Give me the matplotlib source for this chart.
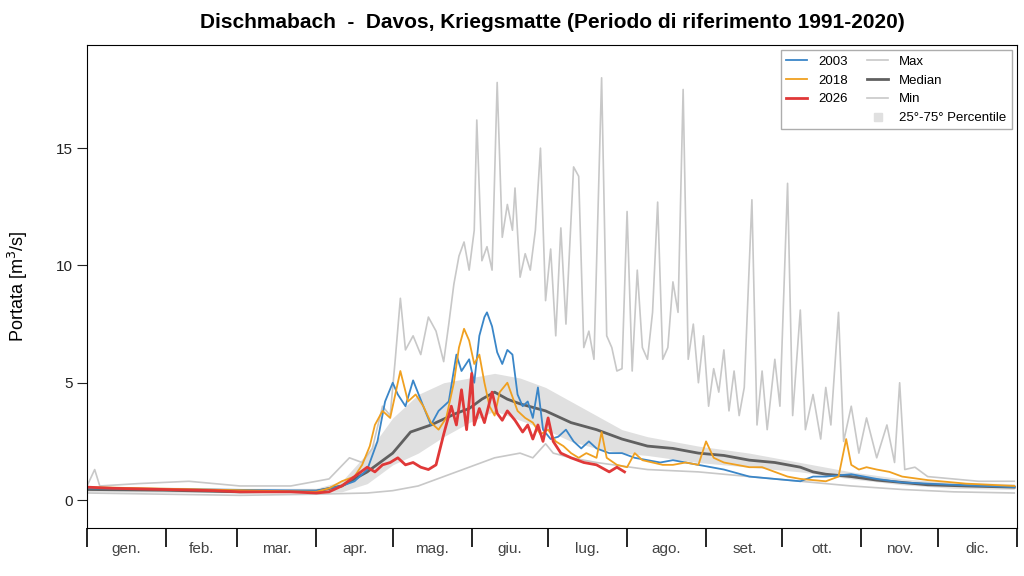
import matplotlib
matplotlib.use("Agg")
import matplotlib.pyplot as plt
from matplotlib.lines import Line2D

plt.rcParams['font.family'] = ['Liberation Sans', 'DejaVu Sans']

# day-of-year knots and values
max_days = [0, 3, 5, 20, 40, 60, 80, 95, 103, 108, 112, 116, 119, 121, 123, 125, 128, 131, 134, 137, 140, 142, 144, 146, 148, 150,
            152, 153, 155, 157, 159, 161, 163, 165, 167, 168, 170, 172, 174, 176, 178, 180, 182, 184, 186, 188, 191, 193, 195, 197,
            199, 202, 204, 206, 208, 210, 212, 214, 216, 218, 220, 222, 224, 226, 228, 230, 232, 234, 236, 238, 240, 242, 244, 246,
            248, 250, 252, 254, 256, 258, 261, 263, 265, 267, 270, 272, 275, 277, 280, 282, 285, 288, 290, 292, 295, 297, 300, 303,
            306, 310, 314, 317, 319, 321, 325, 330, 340, 350, 364]
max_vals = [0.6, 1.3, 0.6, 0.7, 0.8, 0.6, 0.6, 0.9, 1.8, 1.6, 2.2, 4.0, 3.6, 6.0, 8.6, 6.4, 7.0, 6.2, 7.8, 7.2, 5.9, 7.5, 9.2, 10.4, 11.0, 9.8,
            11.5, 16.2, 10.2, 10.8, 9.8, 17.8, 11.2, 12.6, 11.5, 13.3, 9.5, 10.5, 9.8, 11.5, 15.0, 8.5, 10.7, 7.0, 11.6, 7.5, 14.2, 13.8, 6.5, 7.2,
            6.0, 18.0, 7.0, 6.5, 5.5, 5.6, 12.3, 5.5, 9.8, 6.5, 6.0, 8.0, 12.7, 6.0, 6.5, 9.3, 8.0, 17.5, 6.0, 7.5, 5.0, 7.0, 4.0, 5.6,
            4.6, 6.4, 3.8, 5.5, 3.6, 4.8, 12.8, 3.2, 5.5, 3.0, 6.0, 4.0, 13.5, 3.6, 8.1, 3.0, 4.5, 2.6, 4.8, 3.2, 8.0, 2.5, 4.0, 2.0,
            3.5, 1.8, 3.2, 1.6, 5.0, 1.3, 1.4, 1.0, 0.9, 0.8, 0.8]

min_days = [0, 30, 60, 90, 110, 120, 130, 140, 150, 160, 170, 175, 180, 183, 190, 200, 220, 240, 260, 280, 300, 320, 340, 364]
min_vals = [0.3, 0.25, 0.2, 0.25, 0.3, 0.4, 0.6, 1.0, 1.4, 1.8, 2.0, 1.8, 2.4, 2.0, 1.8, 1.6, 1.3, 1.2, 1.0, 0.8, 0.6, 0.45, 0.35, 0.3]

pct_days = [0, 30, 60, 90, 100, 110, 120, 130, 140, 150, 160, 170, 180, 190, 200, 210, 220, 240, 260, 280, 300, 320, 340, 364]
p25_vals = [0.35, 0.33, 0.3, 0.3, 0.35, 0.7, 1.5, 2.0, 2.7, 3.3, 3.8, 3.4, 3.0, 2.5, 2.2, 2.0, 1.9, 1.6, 1.4, 1.2, 0.9, 0.65, 0.5, 0.45]
p75_vals = [0.6, 0.55, 0.5, 0.5, 0.8, 2.0, 3.5, 4.5, 5.0, 5.2, 5.4, 5.2, 4.8, 4.2, 3.6, 3.0, 2.7, 2.3, 2.0, 1.6, 1.2, 0.9, 0.75, 0.7]

med_days = [0, 30, 60, 90, 100, 110, 115, 120, 127, 135, 145, 150, 155, 160, 165, 170, 180, 190, 200, 210, 220, 230, 240, 250,
            260, 270, 280, 285, 290, 300, 310, 320, 330, 345, 364]
med_vals = [0.45, 0.42, 0.35, 0.38, 0.6, 1.2, 1.6, 2.0, 2.9, 3.2, 3.7, 3.9, 4.3, 4.6, 4.3, 4.1, 3.8, 3.3, 3.0, 2.6, 2.3, 2.2, 2.0, 1.9,
            1.7, 1.6, 1.4, 1.2, 1.1, 1.0, 0.85, 0.75, 0.65, 0.6, 0.55]

y2003_days = [0, 90, 95, 100, 105, 110, 114, 117, 120, 122, 125, 128, 132, 135, 138, 142, 145, 147, 150, 152, 154, 156, 157, 159,
              161, 163, 165, 167, 169, 171, 173, 175, 177, 179, 182, 185, 188, 191, 194, 197, 200, 205, 210, 215, 220, 225, 230, 235,
              240, 250, 260, 270, 280, 285, 290, 300, 310, 320, 340, 364]
y2003_vals = [0.5, 0.4, 0.5, 0.6, 0.8, 1.3, 2.5, 4.2, 5.0, 4.5, 4.0, 5.1, 4.0, 3.2, 3.8, 4.2, 6.2, 5.5, 6.0, 5.0, 7.0, 7.8, 8.0, 7.4,
              6.3, 5.8, 6.4, 6.2, 4.5, 4.0, 4.2, 3.5, 4.8, 3.0, 2.6, 2.7, 3.0, 2.5, 2.2, 2.5, 2.2, 2.0, 2.0, 1.8, 1.7, 1.6, 1.7, 1.6,
              1.5, 1.3, 1.0, 0.9, 0.8, 1.0, 1.0, 1.1, 0.9, 0.75, 0.65, 0.55]

y2018_days = [0, 90, 95, 100, 105, 108, 111, 113, 116, 119, 121, 123, 126, 129, 132, 135, 138, 141, 144, 146, 148, 150, 152, 154,
              156, 158, 160, 162, 165, 167, 169, 172, 175, 178, 181, 184, 187, 190, 193, 196, 200, 202, 204, 208, 212, 215, 218, 222,
              226, 230, 235, 240, 243, 246, 250, 255, 260, 265, 270, 275, 280, 290, 295, 298, 300, 303, 306, 310, 315, 320, 330, 345, 364]
y2018_vals = [0.55, 0.35, 0.5, 0.8, 1.0, 1.5, 2.3, 3.2, 3.8, 3.5, 4.5, 5.5, 4.2, 4.5, 4.0, 3.3, 3.0, 3.5, 5.0, 6.5, 7.3, 6.8, 5.8, 6.2,
              5.0, 4.0, 3.6, 4.6, 5.0, 4.4, 3.8, 3.5, 3.3, 2.8, 3.0, 2.5, 2.3, 2.0, 1.8, 2.0, 1.8, 2.9, 1.8, 1.5, 1.4, 2.0, 1.7, 1.6,
              1.5, 1.5, 1.6, 1.5, 2.5, 1.8, 1.6, 1.5, 1.4, 1.4, 1.2, 1.0, 0.9, 0.8, 1.0, 2.6, 1.5, 1.3, 1.4, 1.3, 1.2, 1.0, 0.85, 0.7, 0.6]

y2026_days = [0, 10, 30, 50, 60, 80, 90, 95, 100, 105, 110, 113, 116, 119, 122, 125, 128, 131, 134, 137, 140, 143, 145, 147, 149,
              151, 152, 154, 156, 159, 161, 163, 165, 168, 171, 173, 175, 177, 179, 181, 183, 186, 190, 195, 200, 205, 208, 211]
y2026_vals = [0.55, 0.5, 0.45, 0.4, 0.35, 0.35, 0.3, 0.35, 0.6, 1.0, 1.4, 1.2, 1.5, 1.6, 1.8, 1.5, 1.6, 1.4, 1.3, 1.5, 2.8, 4.0, 3.2, 4.7, 3.0,
              5.4, 3.2, 3.9, 3.3, 4.6, 3.7, 3.4, 3.8, 3.4, 2.9, 3.2, 2.6, 3.2, 2.5, 3.5, 2.5, 2.0, 1.8, 1.6, 1.5, 1.2, 1.4, 1.2]

months = ['gen.', 'feb.', 'mar.', 'apr.', 'mag.', 'giu.', 'lug.', 'ago.', 'set.', 'ott.', 'nov.', 'dic.']
month_starts = [0, 31, 59, 90, 120, 151, 181, 212, 243, 273, 304, 334, 365]

fig = plt.figure(figsize=(10.24, 5.76), dpi=100)
ax = fig.add_axes([0.085, 0.083, 0.908, 0.839])

ax.fill_between(pct_days, p25_vals, p75_vals, color='#e0e0e0', lw=0)
l_max, = ax.plot(max_days, max_vals, color='#c8c8c8', lw=1.2)
l_min, = ax.plot(min_days, min_vals, color='#c8c8c8', lw=1.2)
l_med, = ax.plot(med_days, med_vals, color='#606060', lw=2)
l03, = ax.plot(y2003_days, y2003_vals, color='#3a86c8', lw=1.3)
l18, = ax.plot(y2018_days, y2018_vals, color='#f0a020', lw=1.3)
l26, = ax.plot(y2026_days, y2026_vals, color='#e03838', lw=2)

ax.set_xlim(0, 365)
ax.set_ylim(-1.2, 19.4)
ax.set_yticks([0, 5, 10, 15])
ax.tick_params(axis='y', direction='out', length=7, labelsize=11, colors='#222222')
ax.set_xticks(month_starts)
ax.set_xticklabels([])
ax.tick_params(axis='x', which='major', direction='out', length=14, width=1.2)
mids = [(a + b) / 2 for a, b in zip(month_starts[:-1], month_starts[1:])]
ax.set_xticks(mids, minor=True)
ax.set_xticklabels(months, minor=True, fontsize=11, color='#444444')
ax.tick_params(axis='x', which='minor', length=0, pad=10)

ax.set_ylabel('Portata [m$^3$/s]', fontsize=13, labelpad=18)
ax.set_title('Dischmabach  -  Davos, Kriegsmatte (Periodo di riferimento 1991-2020)',
             fontsize=15, fontweight='bold', pad=12)

sq = Line2D([], [], marker='s', ls='', color='#e0e0e0', markersize=6)
blank = Line2D([], [], ls='', marker='')
ax.legend([l03, l18, l26, blank, l_max, l_med, l_min, sq],
          ['2003', '2018', '2026', '', 'Max', 'Median', 'Min', '25°-75° Percentile'],
          ncol=2, loc='upper right', fontsize=9.5, frameon=True, fancybox=False,
          edgecolor='#999999', handlelength=1.6, columnspacing=1.5, borderaxespad=0.4)

fig.savefig('out.png', dpi=100)
